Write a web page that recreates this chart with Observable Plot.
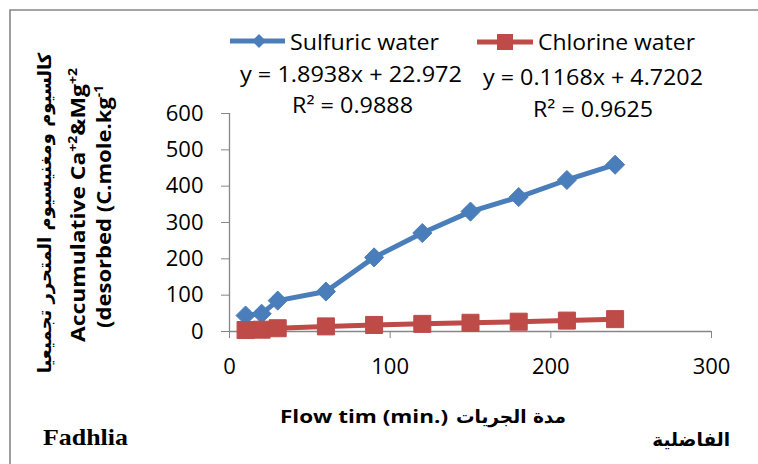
<!DOCTYPE html>
<html><head><meta charset="utf-8">
<script src="https://cdn.jsdelivr.net/npm/d3@7"></script>
<script src="https://cdn.jsdelivr.net/npm/@observablehq/plot@0.6"></script>
<style>
html,body{margin:0;padding:0;background:#fff;}
#wrap{position:relative;width:758px;height:464px;overflow:hidden;}
#wrap svg{position:absolute;left:0;top:0;}
</style></head>
<body><div id="wrap"></div>
<script>
const flowTime = [10, 20, 30, 60, 90, 120, 150, 180, 210, 240];
const sulfuric = [44, 49, 85, 110, 204, 271, 330, 370, 417, 459];
const chlorine = [4, 5, 9, 14, 18, 21, 24, 27, 30, 34];
const xTicks = [0, 100, 200, 300];
const yTicks = [0, 100, 200, 300, 400, 500, 600];
const seriesNames = ["Sulfuric water", "Chlorine water"];
const equations = ["y = 1.8938x + 22.972", "y = 0.1168x + 4.7202"];
const rSquared = ["R² = 0.9888", "R² = 0.9625"];
const blue = "#4A7EBB", red = "#BE4B48", axisGray = "#868686";

const sData = flowTime.map((t, i) => ({t, v: sulfuric[i]}));
const cData = flowTime.map((t, i) => ({t, v: chlorine[i]}));

const plot = Plot.plot({
  width: 758, height: 464,
  marginLeft: 229, marginRight: 47, marginTop: 113, marginBottom: 133,
  style: {fontFamily: "'Open Sans', sans-serif", fontSize: "22px", background: "transparent", overflow: "visible"},
  x: {domain: [0, 300]},
  y: {domain: [0, 600]},
  marks: [
    Plot.ruleX([0], {y1: 0, y2: 600, stroke: axisGray, strokeWidth: 1.3}),
    Plot.ruleY([0], {stroke: axisGray, strokeWidth: 1.3}),
    Plot.axisY({ticks: yTicks, tickSize: 8, tickPadding: 18, stroke: axisGray, fill: "black", label: null, tickFormat: d => String(d)}),
    Plot.axisX({ticks: xTicks, tickSize: 7, tickPadding: 20, stroke: axisGray, fill: "black", label: null, tickFormat: d => String(d)}),
    Plot.line(sData, {x: "t", y: "v", stroke: blue, strokeWidth: 5, strokeLinejoin: "round"}),
    Plot.dot(sData, {x: "t", y: "v", symbol: "diamond2", r: 8.6, fill: blue, stroke: blue, strokeWidth: 1}),
    Plot.line(cData, {x: "t", y: "v", stroke: red, strokeWidth: 5, strokeLinejoin: "round"}),
    Plot.dot(cData, {x: "t", y: "v", symbol: "square", r: 9.6, fill: red, stroke: red, strokeWidth: 1})
  ]
});
document.getElementById("wrap").appendChild(plot);

const ov = d3.select("#wrap").append("svg").attr("width", 758).attr("height", 464)
  .style("font-family", "'Open Sans', sans-serif");

// frame
ov.append("path").attr("d", "M10,470V10H770").attr("fill", "none").attr("stroke", axisGray).attr("stroke-width", 1.6);

// legend
ov.append("line").attr("x1", 230).attr("x2", 285).attr("y1", 41).attr("y2", 41).attr("stroke", blue).attr("stroke-width", 5);
ov.append("path").attr("d", "M259,34L266,41L259,48L252,41Z").attr("fill", blue);
ov.append("line").attr("x1", 477).attr("x2", 533).attr("y1", 42).attr("y2", 42).attr("stroke", red).attr("stroke-width", 5);
ov.append("rect").attr("x", 497).attr("y", 34).attr("width", 16).attr("height", 16).attr("fill", red);

function txt(s, x, y, len, opts = {}) {
  const t = ov.append("text").attr("x", x).attr("y", y).text(s)
    .attr("font-size", opts.size || 21).attr("fill", "black");
  if (len) t.attr("textLength", len).attr("lengthAdjust", "spacingAndGlyphs");
  if (opts.weight) t.attr("font-weight", opts.weight);
  if (opts.family) t.attr("font-family", opts.family);
  if (opts.anchor) t.attr("text-anchor", opts.anchor);
  return t;
}
txt(seriesNames[0], 290, 50, 149);
txt(seriesNames[1], 538, 50, 157);
txt(equations[0], 240, 82, 222);
txt(equations[1], 483, 85, 220);
txt(rSquared[0], 292, 113, 121);
txt(rSquared[1], 533, 117, 120);

// x title
txt("Flow tim (min.)", 280, 423, 168, {size: 18.5, weight: "bold"});
txt("مدة الجريات", 566, 423, null, {size: 18.5, weight: "bold", family: "'DejaVu Sans', sans-serif", anchor: "end"});

// footer
txt("Fadhlia", 43, 445, 85, {size: 24, weight: "bold", family: "'Liberation Serif', serif"});
txt("الفاضلية", 730, 446, null, {size: 18.5, weight: "bold", family: "'DejaVu Sans', sans-serif", anchor: "end"});

// y title (rotated)
function rot(x, y) { return ov.append("text").attr("transform", `translate(${x},${y}) rotate(-90)`).attr("text-anchor", "middle").attr("font-weight", "bold").attr("fill", "black"); }
rot(51, 213).attr("font-family", "'DejaVu Sans', sans-serif").attr("font-size", 18)
  .text("كالسيوم ومغنيسيوم المتحرر تجميعيا");
const l2 = rot(85, 205).attr("font-size", 19.5).attr("textLength", 274).attr("lengthAdjust", "spacingAndGlyphs");
l2.append("tspan").text("Accumulative Ca");
l2.append("tspan").attr("font-size", 12).attr("dy", -8).text("+2");
l2.append("tspan").attr("dy", 8).text("&Mg");
l2.append("tspan").attr("font-size", 12).attr("dy", -8).text("+2");
const l3 = rot(111, 206.5).attr("font-size", 19.5).attr("textLength", 243).attr("lengthAdjust", "spacingAndGlyphs");
l3.append("tspan").text("(desorbed (C.mole.kg");
l3.append("tspan").attr("font-size", 12).attr("dy", -8).text("-1");
</script></body></html>
